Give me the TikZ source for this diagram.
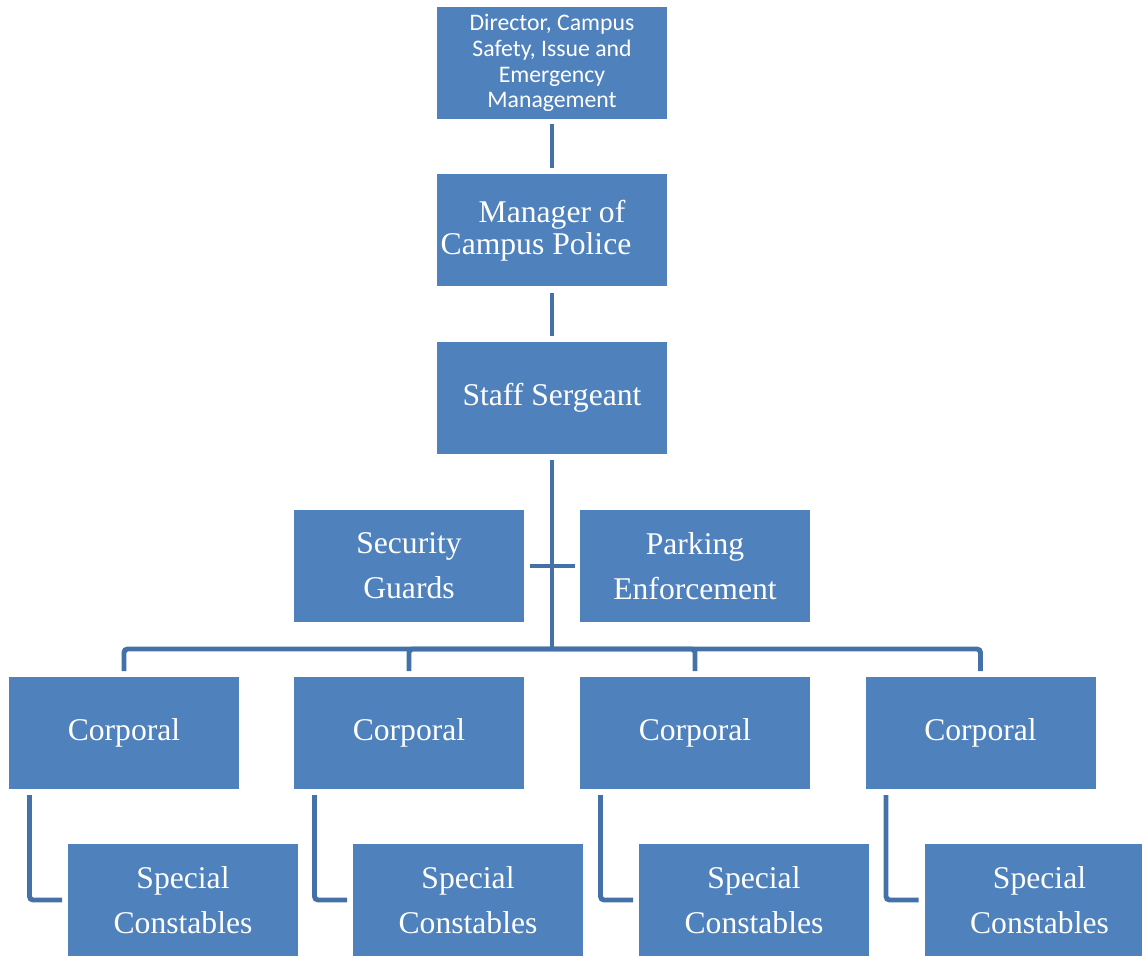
\documentclass[tikz,border=0pt]{standalone}
\usepackage{fontspec}
\setmainfont{Liberation Serif}
\newfontfamily\calibrifont{Carlito}
\definecolor{boxblue}{HTML}{4F81BD}
\definecolor{lineblue}{HTML}{4472A8}
\tikzset{
    rolebox/.style={fill=boxblue, text=white, minimum width=4.6cm, minimum height=2.24cm,
        inner sep=0pt, outer sep=0pt, align=center,
        font=\fontsize{18}{25.8}\selectfont},
    topbox/.style={rolebox, font=\calibrifont\fontsize{13.5}{14.7}\selectfont},
    link/.style={draw=lineblue, line width=2.8pt, rounded corners=2pt}
}
\begin{document}
\begin{tikzpicture}
        \useasboundingbox (0,0) rectangle (22.84,-19.12);
        %% Top of the chain
        \node[topbox] (dir) at (11.04,-1.26) {Director, Campus\\Safety, Issue and\\Emergency\\Management};
        \node[rolebox,font=\fontsize{18}{18.2}\selectfont] (mgr) at (11.04,-4.61) {Manager of\\Campus Police\hspace*{0.64cm}};
        \node[rolebox] (sgt) at (11.04,-7.96) {Staff Sergeant};
        \draw[link,shorten <=0.1cm,shorten >=0.12cm] (dir) -- (mgr);
        \draw[link,shorten <=0.14cm,shorten >=0.12cm] (mgr) -- (sgt);
        %% Side units
        \node[rolebox] (sec) at (8.18,-11.32) {Security\\Guards};
        \node[rolebox] (park) at (13.9,-11.32) {Parking\\Enforcement};
        \draw[link,shorten <=0.12cm,shorten >=0.1cm] (sec) -- (park);
        %% Bus to the corporals
        \coordinate (bus) at (11.04,-12.98);
        \draw[link,shorten <=0.12cm] (sgt) -- (bus);
        \foreach \i/\x in {1/2.48,2/8.18,3/13.9,4/19.61}{
            \node[rolebox] (c\i) at (\x,-14.66) {Corporal};
            \node[rolebox] (s\i) at (\x+1.18,-18.0) {Special\\Constables};
            \draw[link,shorten >=0.12cm] (bus) -| (c\i.north);
            \draw[link] ([xshift=0.41cm,yshift=-0.12cm]c\i.south west) |- ([xshift=-0.12cm]s\i.west);
        }
\end{tikzpicture}
\end{document}
